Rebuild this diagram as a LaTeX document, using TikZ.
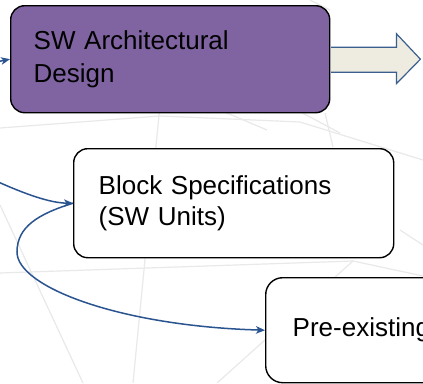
\documentclass[tikz,border=0pt]{standalone}
\usepackage{fontspec}
\setmainfont{Liberation Sans}
\usetikzlibrary{arrows.meta,calc}
\definecolor{boxpurple}{HTML}{8064A2}
\definecolor{linkblue}{HTML}{2A5490}
\definecolor{arrowfill}{HTML}{EEECE1}
\definecolor{arrowedge}{HTML}{3A5F8E}
\definecolor{webgrey}{HTML}{E9E9E9}

\begin{document}
\begin{tikzpicture}[x=1pt,y=-1pt,
  card/.style={draw=black, line width=1.4pt, rounded corners=14pt,
    align=left, anchor=north west, inner ysep=0pt,
    font=\fontsize{26}{31}\selectfont},
  link/.style={draw=linkblue, line width=1.5pt,
    -{Stealth[length=9pt,width=7.5pt,inset=2.5pt]}},
  web/.style={draw=webgrey, line width=1.2pt},
  bigarrow/.style={draw=arrowedge, line width=1.2pt, line join=miter}]

  % page and faint background web
  \fill[white] (0,0) rectangle (423,383);
  \clip (0,0) rectangle (423,383);
  \draw[web] (0,128) -- (160,116) -- (300,122) -- (423,160);
  \draw[web] (160,105) -- (133,383);
  \draw[web] (0,205) -- (83,383);
  \draw[web] (0,273) -- (353,261) -- (423,276);
  \draw[web] (353,261) -- (217,383);
  \draw[web] (220,110) -- (267,130);
  \draw[web] (297,110) -- (340,133);
  \draw[web] (325,113) -- (333,147);
  \draw[web] (310,0) -- (330,10);
  \draw[web] (400,230) -- (423,245);

  % blocks
  \node[card, fill=boxpurple, minimum width=319pt, minimum height=107pt,
        text width=273pt, inner xsep=23pt,
        font=\fontsize{26}{33}\selectfont] (arch) at (10,5)
        {SW Architectural\\Design};
  \node[card, fill=white, minimum width=320pt, minimum height=109pt,
        text width=270pt, inner xsep=25pt] (blk) at (73,148)
        {Block Specifications\\(SW Units)};
  \node[card, fill=white, rounded corners=17pt, minimum width=300pt,
        minimum height=105pt, text width=246pt, inner xsep=27pt] (pre) at (265,277)
        {Pre-existing};

  % output block arrow leaving the architecture box
  \fill[arrowfill] ($(arch.east)+(0.7,-12)$) -- ($(arch.east)+(66,-12)$)
    -- ($(arch.east)+(66,-25.5)$) -- ($(arch.east)+(90,0)$)
    -- ($(arch.east)+(66,24.5)$) -- ($(arch.east)+(66,13)$)
    -- ($(arch.east)+(0.7,13)$) -- cycle;
  \draw[bigarrow] ($(arch.east)+(0.7,-12)$) -- ($(arch.east)+(66,-12)$)
    -- ($(arch.east)+(66,-25.5)$) -- ($(arch.east)+(90,0)$)
    -- ($(arch.east)+(66,24.5)$) -- ($(arch.east)+(66,13)$)
    -- ($(arch.east)+(0.7,13)$);

  % incoming and derived links
  \coordinate (inA) at (-4,62);
  \coordinate (inB) at (-4,181);
  \coordinate (loop) at (17,252);
  \draw[link] (inA) -- (arch.west);
  \draw[link] (inB) .. controls (25,194) and (50,203) .. (blk.west);
  \draw[link] (blk.west) .. controls (38,214) and (17,227) .. (loop)
    .. controls (17,287) and (120,326) .. (pre.west);
\end{tikzpicture}
\end{document}
